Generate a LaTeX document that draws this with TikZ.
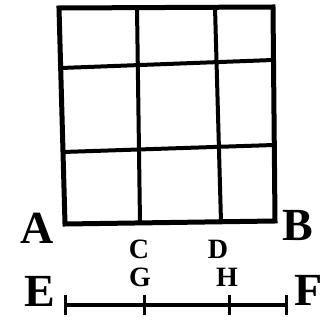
\documentclass[tikz,border=0pt]{standalone}
\usepackage{fontspec}
\setmainfont{Liberation Serif}
\usetikzlibrary{positioning}

\begin{document}
\begin{tikzpicture}[
    x=1pt, y=-1pt,
    frame/.style={line width=5pt, line join=miter},
    grid/.style={line width=4pt},
    bigletter/.style={font=\fontsize{46}{46}\selectfont\bfseries, inner sep=0pt},
    smallletter/.style={font=\fontsize{28}{28}\selectfont\bfseries, inner sep=0pt},
    scaleline/.style={line width=3.5pt},
    tickmark/.style={line width=3pt}
]
\useasboundingbox (0,0) rectangle (333,331);

% Square and its grid
\draw[frame] (59,8) -- (273,7) -- (275,221) -- (65,224) -- cycle;
\draw[grid] (137,8) -- (140,223);
\draw[grid] (215,7) -- (221,222);
\draw[grid] (61,68) -- (273,60);
\draw[grid] (63,152) -- (274,145);

% Letters
\node[bigletter] (A) at (37,228) {A};
\node[bigletter] (B) at (298,226) {B};
\node[smallletter] (C) at (139,249) {C};
\node[smallletter] (D) at (218,249) {D};
\node[smallletter] (G) at (140,277) {G};
\node[smallletter] (H) at (227,277) {H};
\node[bigletter] (E) at (40,291) {E};
\node[bigletter] (F) at (309,290) {F};

% Line EF with its marks
\coordinate (e) at (65,305);
\coordinate (g) at (144,305);
\coordinate (h) at (229,305);
\coordinate (f) at (286,305);
\draw[scaleline] (e) -- (g) -- (h) -- (f);
\foreach \p in {e,g,h,f}
  \draw[tickmark] ([yshift=-10pt]\p) -- ([yshift=10pt]\p);

\end{tikzpicture}
\end{document}
